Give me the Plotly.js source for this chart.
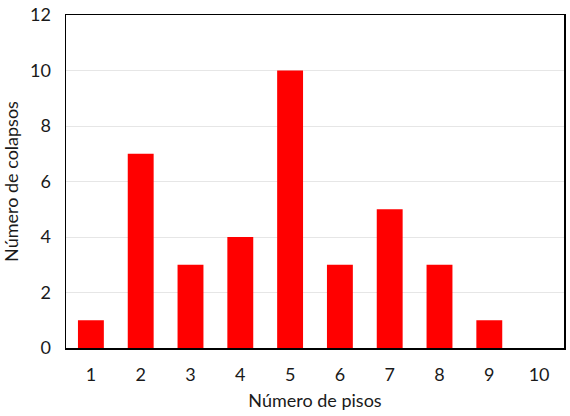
<!DOCTYPE html>
<html>
<head>
<meta charset="utf-8">
<script src="https://cdn.plot.ly/plotly-3.0.1.min.js"></script>
<style>html,body{margin:0;padding:0;background:#fff;}#chart{width:570px;height:416px;}</style>
</head>
<body>
<div id="chart"></div>
<script>
const pisos = ['1','2','3','4','5','6','7','8','9','10'];
const colapsos = [1, 7, 3, 4, 10, 3, 5, 3, 1, 0];
const yTicks = [0, 2, 4, 6, 8, 10, 12];

const font = {family: 'Lato, "Open Sans", sans-serif', size: 18, color: '#1a1a1a'};

Plotly.newPlot('chart', [{
  type: 'bar',
  x: pisos,
  y: colapsos,
  marker: {color: '#ff0000'},
  hoverinfo: 'none'
}], {
  width: 570, height: 416,
  margin: {l: 66, r: 6, t: 15, b: 68},
  paper_bgcolor: '#fff', plot_bgcolor: '#fff',
  bargap: 0.48,
  font: font,
  showlegend: false,
  xaxis: {
    type: 'category',
    showline: true, linecolor: '#000', linewidth: 1.5, mirror: true,
    ticks: '', showgrid: false,
    tickfont: font, ticklabelstandoff: 10,
    title: {text: 'Número de pisos', font: font, standoff: 10}
  },
  yaxis: {
    range: [0, 12], tickvals: yTicks, ticktext: yTicks.map(String),
    showline: true, linecolor: '#000', linewidth: 1.5, mirror: true,
    showgrid: true, gridcolor: '#e6e6e6', gridwidth: 1,
    zeroline: false, ticks: '',
    tickfont: font, ticklabelstandoff: 10,
    title: {text: 'Número de colapsos', font: font, standoff: 12}
  }
}, {displayModeBar: false, staticPlot: true});
</script>
</body>
</html>
